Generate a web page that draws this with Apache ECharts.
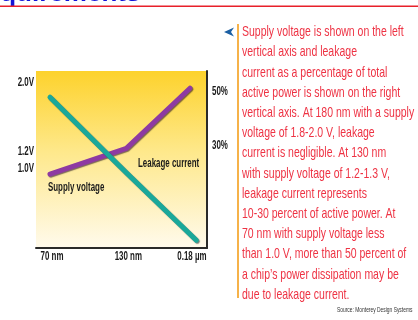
<!DOCTYPE html>
<html>
<head>
<meta charset="utf-8">
<script src="https://cdn.jsdelivr.net/npm/echarts@6/dist/echarts.min.js"></script>
<style>
  html, body { margin: 0; padding: 0; background: #fff; }
  #chart { width: 418px; height: 320px; }
</style>
</head>
<body>
<div id="chart"></div>
<script>
// Process node (nm) on the horizontal axis
const nodeNm = [70, 130, 180];
const nodeLabels = ['70 nm', '130 nm', '0.18 \u00b5m'];

// Supply voltage (V), left axis
const supplyVoltage = [0.94, 1.24, 1.94];

// Leakage current as % of active power, right axis
const leakageNm = [70, 130, 185];
const leakagePct = [48, 20, -5];

// Axis labels shown
const voltTicks = [1.0, 1.2, 2.0];
const pctTicks = [30, 50];

const noteLines = [
  'Supply voltage is shown on the left',
  'vertical axis and leakage',
  'current as a percentage of total',
  'active power is shown on the right',
  'vertical axis. At 180 nm with a supply',
  'voltage of 1.8-2.0 V, leakage',
  'current is negligible. At 130 nm',
  'with supply voltage of 1.2-1.3 V,',
  'leakage current represents',
  '10-30 percent of active power. At',
  '70 nm with supply voltage less',
  'than 1.0 V, more than 50 percent of',
  'a chip\u2019s power dissipation may be',
  'due to leakage current.'
];

const face = "'Liberation Sans', Arial, sans-serif";
const squeeze = 0.66; // horizontal condensing of the narrow lettering

const chart = echarts.init(document.getElementById('chart'), null, { renderer: 'canvas' });

chart.setOption({
  animation: false,
  backgroundColor: '#ffffff',
  grid: {
    left: 36, right: 211, top: 71, bottom: 72,
    show: true,
    borderWidth: 0,
    backgroundColor: new echarts.graphic.LinearGradient(0, 0, 0, 1, [
      { offset: 0, color: '#fdd22c' },
      { offset: 0.45, color: '#fee88a' },
      { offset: 1, color: '#fffaec' }
    ])
  },
  xAxis: {
    type: 'value',
    min: 59, max: 193.4,
    splitLine: { show: false },
    axisLine: { show: true, onZero: false, lineStyle: { color: '#2a2a2a', width: 2 } },
    axisTick: { show: false },
    axisLabel: { show: false }
  },
  yAxis: [
    {
      type: 'value', position: 'left',
      min: 0.081, max: 2.14,
      splitLine: { show: false },
      axisLine: { show: false },
      axisTick: { show: false },
      axisLabel: { show: false }
    },
    {
      type: 'value', position: 'right',
      min: -7.9, max: 57.7,
      splitLine: { show: false },
      axisLine: { show: true, onZero: false, lineStyle: { color: '#2a2a2a', width: 2 } },
      axisTick: { show: false },
      axisLabel: { show: false }
    }
  ],
  series: [
    {
      name: 'Supply voltage',
      type: 'line',
      yAxisIndex: 0,
      data: nodeNm.map((n, i) => [n, supplyVoltage[i]]),
      symbol: 'none',
      lineStyle: {
        color: '#8e3aa2', width: 5, cap: 'round', join: 'round',
        shadowColor: 'rgba(40,20,40,0.6)', shadowOffsetX: 1, shadowOffsetY: 1, shadowBlur: 1
      }
    },
    {
      name: 'Leakage current',
      type: 'line',
      yAxisIndex: 1,
      data: leakageNm.map((n, i) => [n, leakagePct[i]]),
      symbol: 'none',
      lineStyle: {
        color: '#1aa89a', width: 5, cap: 'round', join: 'round',
        shadowColor: 'rgba(20,40,40,0.6)', shadowOffsetX: 1, shadowOffsetY: 1, shadowBlur: 1
      }
    }
  ]
});

// Condensed tick labels, placed with the axes' own scales
function tickText(x, y, text, align, vAlign) {
  return {
    type: 'text', x: x, y: y, scaleX: squeeze, z: 10,
    style: {
      text: text, fill: '#1a1a1a', font: 'bold 12px ' + face,
      align: align, verticalAlign: vAlign
    }
  };
}

const gridRect = chart.getModel().getComponent('grid').coordinateSystem.getRect();
const ticks = [];
voltTicks.forEach(v => {
  const y = chart.convertToPixel({ yAxisIndex: 0 }, v);
  ticks.push(tickText(gridRect.x - 2, y, v.toFixed(1) + 'V', 'right', 'middle'));
});
pctTicks.forEach(v => {
  const y = chart.convertToPixel({ yAxisIndex: 1 }, v);
  ticks.push(tickText(gridRect.x + gridRect.width + 5, y, v + '%', 'left', 'middle'));
});
nodeNm.forEach((n, i) => {
  const x = chart.convertToPixel({ xAxisIndex: 0 }, n);
  ticks.push(tickText(x + 2, gridRect.y + gridRect.height + 3, nodeLabels[i], 'center', 'top'));
});

chart.setOption({
  graphic: ticks.concat([
    // Cut-off slide heading and its rule
    {
      type: 'text', x: -33, y: -19,
      style: { text: 'Requirements', fill: '#1414d8', font: 'bold 26px ' + face }
    },
    {
      type: 'rect', shape: { x: 0, y: 5.5, width: 418, height: 1.5 },
      style: { fill: '#e8202a' }
    },
    // Series labels inside the plot
    {
      type: 'text', x: 138, y: 158, scaleX: squeeze,
      style: { text: 'Leakage current', fill: '#1a1a1a', font: 'bold 12px ' + face }
    },
    {
      type: 'text', x: 48, y: 182, scaleX: squeeze,
      style: { text: 'Supply voltage', fill: '#1a1a1a', font: 'bold 12px ' + face }
    },
    // Note marker and bar
    {
      type: 'polygon', shape: { points: [[224, 32], [234, 27.5], [231, 32], [234, 36.5]] },
      style: { fill: '#1b5fa3' }
    },
    {
      type: 'rect', shape: { x: 237, y: 24, width: 2, height: 274 },
      style: { fill: '#f6b24a' }
    },
    {
      type: 'text', x: 242, y: 22, scaleX: 0.7,
      style: {
        text: noteLines.join('\n'),
        fill: '#ee3344',
        font: '15px ' + face,
        lineHeight: 20.2
      }
    },
    {
      type: 'text', x: 337, y: 307, scaleX: 0.7,
      style: { text: 'Source: Monterey Design Systems', fill: '#333', font: '7px ' + face }
    }
  ])
});
</script>
</body>
</html>
